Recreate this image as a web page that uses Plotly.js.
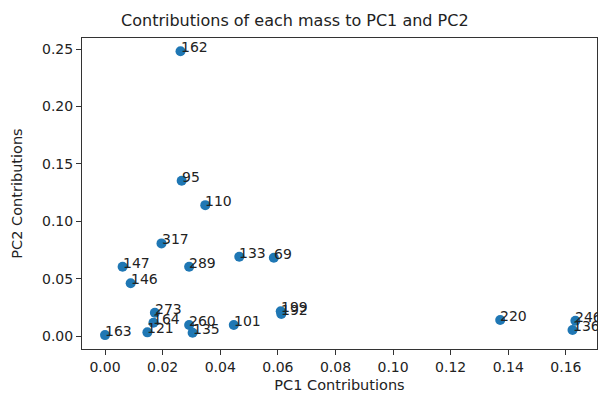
<!DOCTYPE html>
<html>
<head>
<meta charset="utf-8">
<script src="https://cdn.plot.ly/plotly-3.0.1.min.js"></script>
<style>html,body{margin:0;padding:0;background:#fff;}#chart{width:598px;height:394px;}</style>
</head>
<body>
<div id="chart"></div>
<script>
const masses = ['162','95','110','317','147','146','289','133','69','163','273','164','121','260','135','101','199','192','220','246','136'];
const pc1 = [0.0262,0.0266,0.0348,0.0196,0.0061,0.0089,0.0292,0.0466,0.0586,0.0000,0.0173,0.0168,0.0147,0.0292,0.0304,0.0447,0.0610,0.0612,0.1372,0.1633,0.1623];
const pc2 = [0.2480,0.1353,0.1140,0.0807,0.0604,0.0459,0.0604,0.0691,0.0682,0.0008,0.0203,0.0116,0.0032,0.0096,0.0029,0.0096,0.0215,0.0192,0.0139,0.0133,0.0052];
const xTicks = [0,0.02,0.04,0.06,0.08,0.10,0.12,0.14,0.16];
const yTicks = [0,0.05,0.10,0.15,0.20,0.25];

const font = 'DejaVu Sans, Liberation Sans, sans-serif';
const trace = {
  x: pc1, y: pc2, type: 'scatter', mode: 'markers',
  marker: {color: '#1f77b4', size: 10},
  hoverinfo: 'none', cliponaxis: false
};
const annotations = masses.map((m, i) => ({
  x: pc1[i], y: pc2[i], xref: 'x', yref: 'y', text: m, showarrow: false,
  xanchor: 'left', yanchor: 'bottom', xshift: -2, yshift: -6,
  font: {family: font, size: 14, color: '#222'}
}));
const axisCommon = {
  showgrid: false, zeroline: false, showline: true, mirror: true,
  linecolor: '#333', linewidth: 1, ticks: 'outside', ticklen: 5,
  tickcolor: '#333', tickwidth: 1, tickformat: '.2f',
  tickfont: {family: font, size: 14, color: '#222'}, automargin: false
};
const layout = {
  width: 598, height: 394,
  margin: {l: 82, r: 1, t: 38, b: 45},
  paper_bgcolor: '#fff', plot_bgcolor: '#fff',
  showlegend: false,
  title: {text: 'Contributions of each mass to PC1 and PC2', x: 0.493, xref: 'container', xanchor: 'center',
          y: 0.947, yref: 'container', yanchor: 'middle', font: {family: font, size: 16, color: '#222'}},
  xaxis: Object.assign({}, axisCommon, {range: [-0.0080, 0.1708], tickvals: xTicks,
    title: {text: 'PC1 Contributions', standoff: 6, font: {family: font, size: 14.5, color: '#222'}}}),
  yaxis: Object.assign({}, axisCommon, {range: [-0.0113, 0.2596], tickvals: yTicks,
    title: {text: 'PC2 Contributions', standoff: 15, font: {family: font, size: 14.5, color: '#222'}}}),
  annotations: annotations
};
Plotly.newPlot('chart', [trace], layout, {staticPlot: true, displayModeBar: false});
</script>
</body>
</html>
